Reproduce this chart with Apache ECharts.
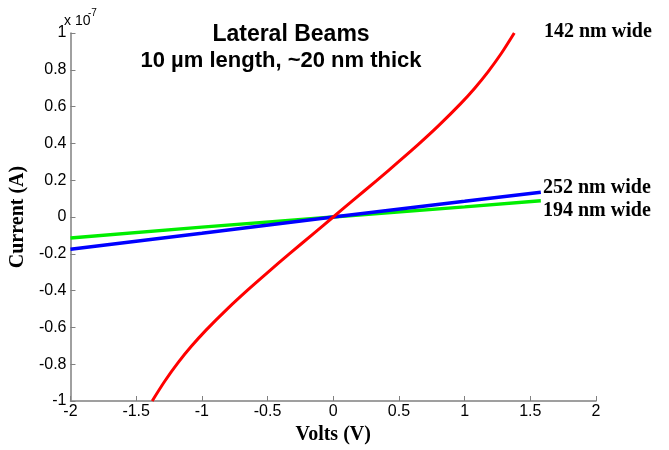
<!doctype html>
<html>
<head>
    <meta charset="utf-8">
    <title>Lateral Beams I-V</title>
    <script src="https://cdn.jsdelivr.net/npm/echarts@6/dist/echarts.min.js"></script>
    <style>
        body{
            margin:0;
            padding:0;
            background:#fff;
        }
        #chart{
            width:669px;
            height:450px;
        }
    </style>
</head>
<body>
<div id="chart"></div>
<script>
    // values in units of 1e-7 A
    var xTicks = [-2, -1.5, -1, -0.5, 0, 0.5, 1, 1.5, 2];

    // 142 nm wide
    var redX = [-1.378, -1.28, -1.178, -1.08, -0.97, -0.80, -0.65, -0.50, -0.33, -0.15, 0,
                0.15, 0.33, 0.50, 0.65, 0.80, 0.97, 1.08, 1.178, 1.28, 1.378];
    var redY = [-1.0, -0.890, -0.789, -0.703, -0.616, -0.495, -0.396, -0.302, -0.198, -0.09, 0,
                0.09, 0.198, 0.302, 0.396, 0.495, 0.616, 0.703, 0.789, 0.890, 1.0];

    // 252 nm wide
    var blueX = [-2, -1, 0, 1, 1.58];
    var blueY = [-0.175, -0.088, 0, 0.085, 0.135];

    // 194 nm wide
    var greenX = [-2, -1, 0, 1, 1.58];
    var greenY = [-0.114, -0.055, 0, 0.055, 0.088];

    function pairs(xs, ys){
        var out = [];
        for (var i = 0; i < xs.length; i++) {
            out.push([xs[i], ys[i]]);
        }
        return out;
    }

    var tickFont = {
        color: '#000',
        fontFamily: 'Liberation Sans',
        fontSize: 16
    };
    var nameFont = {
        color: '#000',
        fontFamily: 'Liberation Serif',
        fontWeight: 'bold',
        fontSize: 20
    };

    var myChart = echarts.init(document.getElementById('chart'));
    var option = {
        backgroundColor: '#fff',
        animation: false,
        grid: {
            left: 64,
            right: 73,
            top: 33,
            bottom: 37
        },
        xAxis: {
            type: 'value',
            min: -2,
            max: 2,
            interval: 0.5,
            name: 'Volts (V)',
            nameLocation: 'middle',
            nameGap: 24,
            nameTextStyle: nameFont,
            axisLine: { onZero: false, lineStyle: { color: '#808080', width: 1.5 } },
            axisTick: { inside: true, length: 5, lineStyle: { color: '#808080' } },
            axisLabel: Object.assign({ margin: 3 }, tickFont),
            splitLine: { show: false }
        },
        yAxis: {
            type: 'value',
            min: -1,
            max: 1,
            interval: 0.2,
            name: 'Current (A)',
            nameLocation: 'middle',
            nameGap: 35,
            nameTextStyle: nameFont,
            axisLine: { onZero: false, lineStyle: { color: '#808080', width: 1.5 } },
            axisTick: { inside: true, length: 5, lineStyle: { color: '#808080' } },
            axisLabel: Object.assign({ margin: 4 }, tickFont),
            splitLine: { show: false }
        },
        series: [
            {
                name: '194 nm wide',
                type: 'line',
                data: pairs(greenX, greenY),
                showSymbol: false,
                lineStyle: { color: '#00ee00', width: 3.5 }
            },
            {
                name: '252 nm wide',
                type: 'line',
                data: pairs(blueX, blueY),
                showSymbol: false,
                lineStyle: { color: '#0000ff', width: 3.5 }
            },
            {
                name: '142 nm wide',
                type: 'line',
                data: pairs(redX, redY),
                smooth: 0.3,
                showSymbol: false,
                lineStyle: { color: '#ff0000', width: 3 }
            }
        ],
        graphic: [
            {
                type: 'text', left: 64, top: 14,
                style: { text: 'x 10', fill: '#000', font: '14px "Liberation Sans"' }
            },
            {
                type: 'text', left: 88, top: 8,
                style: { text: '-7', fill: '#000', font: '10px "Liberation Sans"' }
            },
            {
                type: 'text', x: 291, y: 35,
                style: { text: 'Lateral Beams', fill: '#000', align: 'center', verticalAlign: 'middle',
                    font: 'bold 23px "Liberation Sans"' }
            },
            {
                type: 'text', x: 281, y: 61,
                style: { text: '10 \u00b5m length, ~20 nm thick', fill: '#000', align: 'center', verticalAlign: 'middle',
                    font: 'bold 22px "Liberation Sans"' }
            },
            {
                type: 'text', x: 544, y: 32,
                style: { text: '142 nm wide', fill: '#000', verticalAlign: 'middle',
                    font: 'bold 20px "Liberation Serif"' }
            },
            {
                type: 'text', x: 543, y: 188,
                style: { text: '252 nm wide', fill: '#000', verticalAlign: 'middle',
                    font: 'bold 20px "Liberation Serif"' }
            },
            {
                type: 'text', x: 543, y: 211,
                style: { text: '194 nm wide', fill: '#000', verticalAlign: 'middle',
                    font: 'bold 20px "Liberation Serif"' }
            }
        ]
    };
    myChart.setOption(option, true);
</script>
</body>
</html>
